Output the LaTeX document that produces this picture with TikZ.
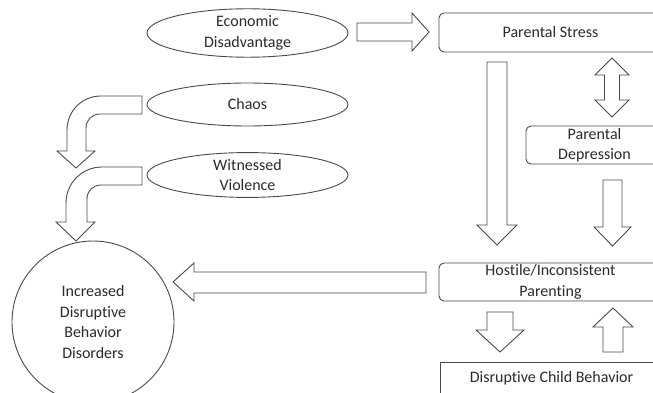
\documentclass[tikz,border=0pt]{standalone}
\usepackage{fontspec}
\setmainfont{Carlito}[Ligatures=NoCommon]
\usetikzlibrary{shapes.geometric}
\definecolor{lc}{HTML}{4A4A4A}
\definecolor{tc}{HTML}{2A2A2A}
\begin{document}
\begin{tikzpicture}[x=1pt,y=-1pt,
  every node/.style={font=\fontsize{16}{20.5}\selectfont, text=tc, align=center, inner sep=0pt},
  oval/.style={draw=lc, line width=0.9pt, ellipse, minimum width=201pt, minimum height=43pt},
  rbox/.style={draw=lc, line width=0.9pt, rectangle, rounded corners=5pt, minimum width=223pt},
  sbox/.style={draw=lc, line width=0.9pt, rectangle, minimum width=223pt},
  blk/.style={draw=lc, line width=0.9pt, fill=white, line join=miter}]
\useasboundingbox (0,0) rectangle (653,393);
\clip (0,0) rectangle (653,393);
% ellipses
\node[oval] (econ) at (247.5,33) {Economic\\Disadvantage};
\node[oval] (chaos) at (247.5,104.5) {Chaos};
\node[oval, minimum height=44pt] (viol) at (247.5,175) {Witnessed\\Violence};
% boxes
\node[rbox, minimum height=39pt] (ps) at (550.5,32.5) {Parental Stress};
\node[rbox, minimum height=38pt, minimum width=137pt] (pd) at (594.5,145) {Parental\\Depression};
\node[rbox, minimum height=38pt] (hp) at (550.5,282) {Hostile/Inconsistent\\Parenting};
\node[sbox, minimum height=32pt] (dcb) at (551.5,378) {Disruptive Child Behavior};
% circle
\node[draw=lc, line width=0.9pt, circle, minimum size=162pt] (idbd) at (93,322) {Increased\\Disruptive\\Behavior\\Disorders};
% Economic -> Parental Stress
\draw[blk] (357,23) -- (412,23) -- (412,13) -- (429,32) -- (412,51) -- (412,41) -- (357,41) -- cycle;
% Parental Stress -> Hostile (tall)
\draw[blk] (487,62) -- (507,62) -- (507,225) -- (517,225) -- (497,245) -- (477,225) -- (487,225) -- cycle;
% double arrow PS <-> PD
\draw[blk] (612,58) -- (629,75) -- (619.5,75) -- (619.5,100) -- (629,100) -- (612,117) -- (595,100) -- (604.5,100) -- (604.5,75) -- (595,75) -- cycle;
% PD -> Hostile
\draw[blk] (603,180) -- (622,180) -- (622,227) -- (631,227) -- (612.5,246) -- (594,227) -- (603,227) -- cycle;
% Hostile -> DCB
\draw[blk] (487,312) -- (513,312) -- (513,330) -- (524,330) -- (500,352) -- (476,330) -- (487,330) -- cycle;
% DCB -> Hostile
\draw[blk] (603,352) -- (623,352) -- (623,327) -- (633,327) -- (613,308) -- (593,327) -- (603,327) -- cycle;
% Hostile -> circle
\draw[blk] (426,272) -- (194,272) -- (194,263) -- (173,282) -- (194,301) -- (194,293) -- (426,293) -- cycle;
% Chaos bent arrow
\draw[blk] (142,96) -- (101,96) .. controls (82,96) and (67,111) .. (67,130) -- (67,151) -- (57,151) -- (76,168) -- (95,151) -- (86,151) -- (86,128) .. controls (86,120) and (92,114) .. (100,114) -- (142,114) -- cycle;
% Witnessed bent arrow
\draw[blk] (142,167) -- (102,167) .. controls (82,167) and (66,183) .. (66,203) -- (66,222) -- (56,222) -- (76,241) -- (95,222) -- (87,222) -- (87,199) .. controls (87,191) and (93,185) .. (101,185) -- (142,185) -- cycle;
\end{tikzpicture}
\end{document}
